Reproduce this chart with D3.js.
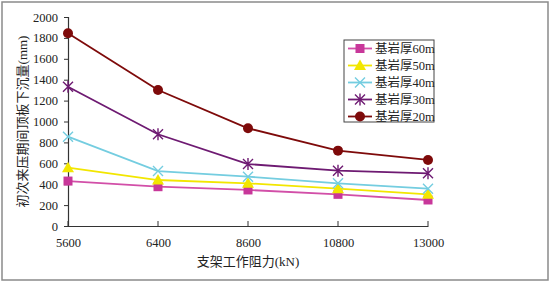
<!DOCTYPE html>
<html>
<head>
<meta charset="utf-8">
<script src="https://cdn.jsdelivr.net/npm/d3@7/dist/d3.min.js"></script>
<style>
  html, body { margin: 0; padding: 0; background: #fff; }
  svg { display: block; }
  svg text { font-family: "Liberation Serif", "Noto Sans CJK SC", serif; }
</style>
</head>
<body>
<div id="chart"></div>
<script>
// ---- data ----
const CATEGORIES = ['5600', '6400', '8600', '10800', '13000'];
const Y_TICKS = [0, 200, 400, 600, 800, 1000, 1200, 1400, 1600, 1800, 2000];
const SERIES_NAMES = ['基岩厚60m', '基岩厚50m', '基岩厚40m', '基岩厚30m', '基岩厚20m'];
const V60 = [430, 376, 345, 303, 249];
const V50 = [558, 440, 408, 357, 303];
const V40 = [855, 526, 472, 408, 357];
const V30 = [1333, 878, 593, 529, 504];
const V20 = [1844, 1301, 935, 721, 632];

const X_TITLE = '支架工作阻力(kN)';
const Y_TITLE = '初次来压期间顶板下沉量(mm)';

const W = 550, H = 283;
const m = { t: 17, r: 122, b: 57, l: 68 };

const series = [
  { name: SERIES_NAMES[0], values: V60, color: '#C8379A', line: '#D24FA8', marker: 'square' },
  { name: SERIES_NAMES[1], values: V50, color: '#F2E600', line: '#F2E600', marker: 'triangle' },
  { name: SERIES_NAMES[2], values: V40, color: '#74CDE0', line: '#74CDE0', marker: 'x' },
  { name: SERIES_NAMES[3], values: V30, color: '#6E1A72', line: '#6E1A72', marker: 'star' },
  { name: SERIES_NAMES[4], values: V20, color: '#7E0A0A', line: '#7E0A0A', marker: 'circle' }
];

const svg = d3.select('#chart').append('svg')
  .attr('width', W).attr('height', H);

// outer frame
svg.append('rect')
  .attr('x', 2).attr('y', 2).attr('width', W - 4).attr('height', H - 5)
  .attr('fill', '#fff').attr('stroke', '#8a8a8a').attr('stroke-width', 1.5);

const x = d3.scalePoint().domain(CATEGORIES).range([m.l, W - m.r]);
const y = d3.scaleLinear().domain([0, 2000]).range([H - m.b, m.t]);

// axes
const yAxis = svg.append('g').attr('transform', `translate(${m.l},0)`)
  .call(d3.axisLeft(y).tickValues(Y_TICKS).tickFormat(d3.format('d')).tickSize(4).tickPadding(6));
const xAxis = svg.append('g').attr('transform', `translate(0,${H - m.b})`)
  .call(d3.axisBottom(x).tickSize(0).tickPadding(12));
[yAxis, xAxis].forEach(g => {
  g.attr('font-family', null).attr('font-size', 12.5);
  g.selectAll('text').attr('fill', '#222');
  g.select('.domain').attr('stroke', '#333').attr('stroke-width', 1.2);
  g.selectAll('.tick line').attr('stroke', '#333');
});
// small upward ticks at each category
svg.append('g').selectAll('line')
  .data(CATEGORIES).join('line')
  .attr('x1', d => x(d)).attr('x2', d => x(d))
  .attr('y1', H - m.b - 5).attr('y2', H - m.b)
  .attr('stroke', '#333');

// titles
svg.append('text')
  .attr('x', (m.l + W - m.r) / 2).attr('y', 266)
  .attr('text-anchor', 'middle')
  .attr('font-size', 13).attr('fill', '#222')
  .text(X_TITLE);
svg.append('text')
  .attr('transform', `translate(27,${(m.t + H - m.b) / 2}) rotate(-90)`)
  .attr('text-anchor', 'middle')
  .attr('font-size', 13).attr('fill', '#222')
  .text(Y_TITLE);

// marker drawing
function drawMarker(g, type, color, cx, cy) {
  if (type === 'square') {
    g.append('rect').attr('x', cx - 4.5).attr('y', cy - 4.5)
      .attr('width', 9).attr('height', 9).attr('fill', color);
  } else if (type === 'triangle') {
    g.append('path')
      .attr('d', `M${cx},${cy - 6}L${cx + 6},${cy + 4.5}L${cx - 6},${cy + 4.5}Z`)
      .attr('fill', color);
  } else if (type === 'x') {
    g.append('path')
      .attr('d', `M${cx - 5},${cy - 5}L${cx + 5},${cy + 5}M${cx - 5},${cy + 5}L${cx + 5},${cy - 5}`)
      .attr('stroke', color).attr('stroke-width', 1.4).attr('fill', 'none');
  } else if (type === 'star') {
    g.append('path')
      .attr('d', `M${cx - 5},${cy - 5}L${cx + 5},${cy + 5}M${cx - 5},${cy + 5}L${cx + 5},${cy - 5}M${cx},${cy - 6}L${cx},${cy + 6}`)
      .attr('stroke', color).attr('stroke-width', 1.4).attr('fill', 'none');
  } else {
    g.append('circle').attr('cx', cx).attr('cy', cy).attr('r', 5).attr('fill', color);
  }
}

const line = d3.line().x((d, i) => x(CATEGORIES[i])).y(d => y(d));

series.forEach(s => {
  svg.append('path').datum(s.values)
    .attr('fill', 'none').attr('stroke', s.line).attr('stroke-width', 1.8)
    .attr('d', line);
  const g = svg.append('g');
  s.values.forEach((v, i) => drawMarker(g, s.marker, s.color, x(CATEGORIES[i]), y(v)));
});

// legend
const lg = svg.append('g').attr('transform', 'translate(344,40)');
lg.append('rect').attr('width', 90).attr('height', 82)
  .attr('fill', '#fff').attr('stroke', '#444').attr('stroke-width', 1);
series.forEach((s, i) => {
  const ly = 8.5 + i * 17;
  lg.append('line').attr('x1', 4).attr('x2', 28).attr('y1', ly).attr('y2', ly)
    .attr('stroke', s.line).attr('stroke-width', 1.8);
  drawMarker(lg, s.marker, s.color, 16, ly);
  lg.append('text').attr('x', 31).attr('y', ly).attr('dy', '0.36em')
    .attr('font-size', 12.5).attr('fill', '#222')
    .text(s.name);
});
</script>
</body>
</html>
